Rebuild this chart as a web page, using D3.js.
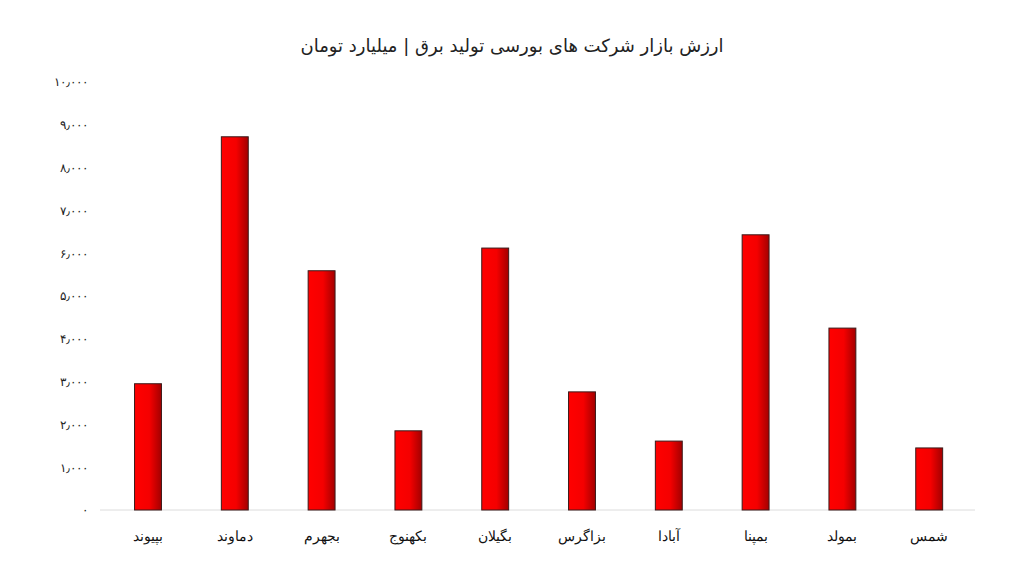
<!DOCTYPE html>
<html>
<head>
<meta charset="utf-8">
<script src="https://cdn.jsdelivr.net/npm/d3@7"></script>
<style>
  body { margin: 0; background: #fff; }
  svg { display: block; font-family: "DejaVu Sans", sans-serif; }
</style>
</head>
<body>
<div id="chart"></div>
<script>
(function () {
    'use strict';

    const companies = ['بپیوند', 'دماوند', 'بجهرم', 'بکهنوج', 'بگیلان', 'بزاگرس', 'آبادا', 'بمپنا', 'بمولد', 'شمس'];
    const values = [2950, 8720, 5590, 1850, 6120, 2760, 1610, 6430, 4250, 1450];
    const yTicks = [0, 1000, 2000, 3000, 4000, 5000, 6000, 7000, 8000, 9000, 10000];
    const title = 'ارزش بازار شرکت های بورسی تولید برق | میلیارد تومان';

    const width = 1024;
    const height = 577;

    const fa = d3.formatLocale({
        decimal: '.',
        thousands: '٫',
        grouping: [3],
        currency: ['', ''],
        numerals: ['۰', '۱', '۲', '۳', '۴', '۵', '۶', '۷', '۸', '۹']
    });
    const fmt = fa.format(',d');

    const x = d3.scaleBand()
        .domain(companies)
        .range([104.6, 972.6])
        .paddingInner(0.69)
        .paddingOuter(0.345);

    const y = d3.scaleLinear()
        .domain([0, 10000])
        .range([510, 82]);

    const svg = d3.select('#chart').append('svg')
        .attr('width', width)
        .attr('height', height);

    const grad = svg.append('defs').append('linearGradient')
        .attr('id', 'barGrad')
        .attr('x1', 0).attr('x2', 1).attr('y1', 0).attr('y2', 0);
    grad.append('stop').attr('offset', '0%').attr('stop-color', '#ff0000');
    grad.append('stop').attr('offset', '55%').attr('stop-color', '#f50000');
    grad.append('stop').attr('offset', '100%').attr('stop-color', '#a30000');

    svg.append('text')
        .attr('x', 512)
        .attr('y', 52)
        .attr('text-anchor', 'middle')
        .attr('font-size', 18)
        .attr('fill', '#222')
        .text(title);

    // baseline
    svg.append('line')
        .attr('x1', 100).attr('x2', 975)
        .attr('y1', y(0)).attr('y2', y(0))
        .attr('stroke', '#dcdcdc')
        .attr('stroke-width', 1);

    const yAxis = svg.append('g')
        .attr('transform', 'translate(88,0)')
        .call(d3.axisLeft(y).tickValues(yTicks).tickFormat(fmt).tickSize(0).tickPadding(0));
    yAxis.select('.domain').remove();
    yAxis.selectAll('text')
        .attr('font-size', 12)
        .attr('fill', '#222')
        .attr('direction', 'ltr');

    svg.append('g')
        .selectAll('rect')
        .data(values)
        .join('rect')
        .attr('x', (d, i) => x(companies[i]))
        .attr('y', d => y(d))
        .attr('width', x.bandwidth())
        .attr('height', d => y(0) - y(d))
        .attr('fill', 'url(#barGrad)')
        .attr('stroke', '#3a1a1a')
        .attr('stroke-width', 1);

    const xAxis = svg.append('g')
        .attr('transform', `translate(0,${y(0)})`)
        .call(d3.axisBottom(x).tickSize(0).tickPadding(21));
    xAxis.select('.domain').remove();
    xAxis.selectAll('text')
        .attr('font-size', 14)
        .attr('fill', '#111');
})();
</script>
</body>
</html>
